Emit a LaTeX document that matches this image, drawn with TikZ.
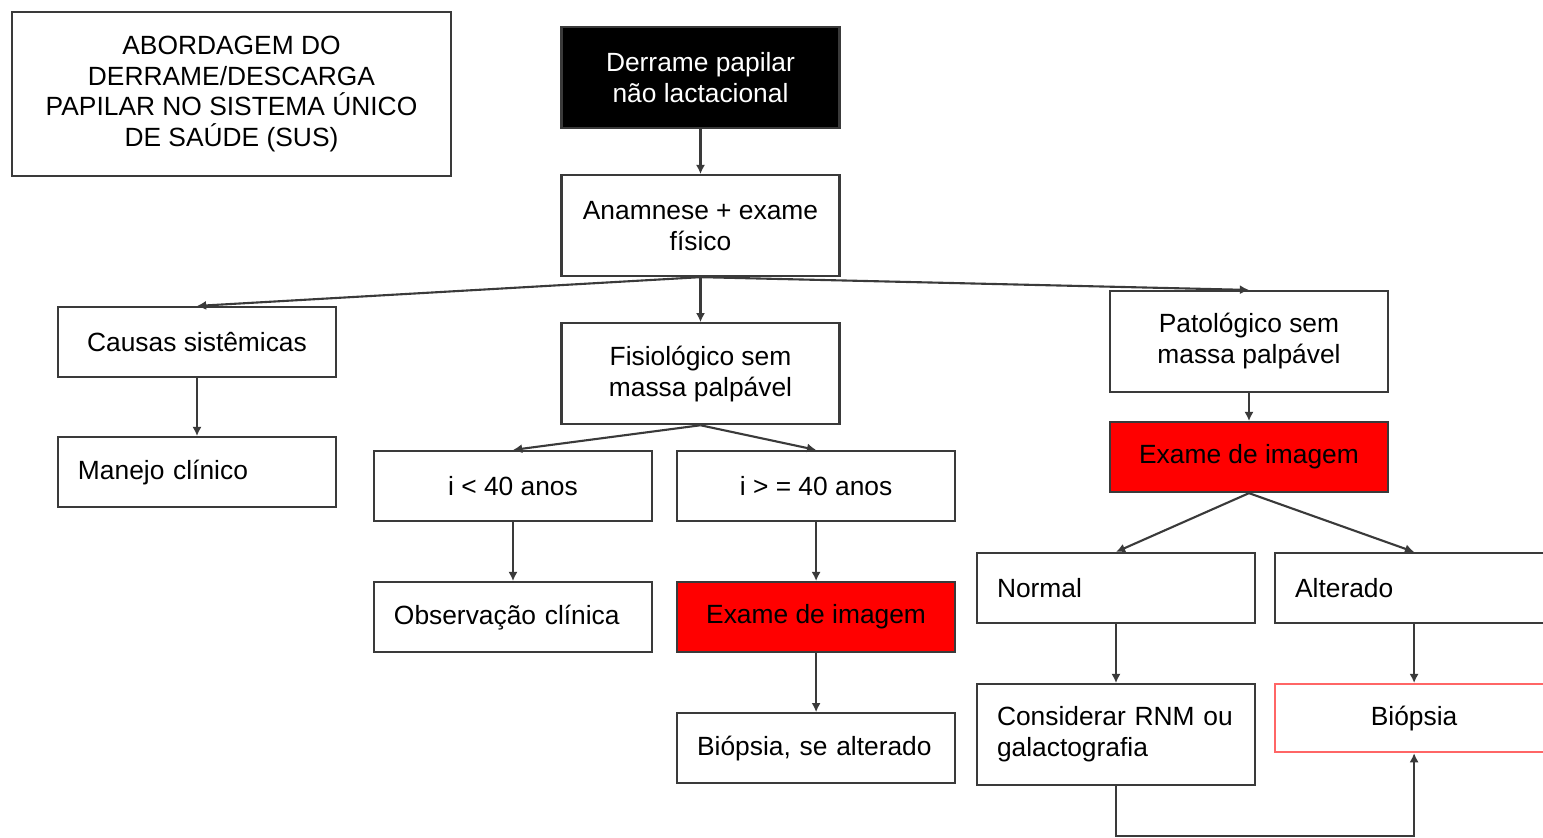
\documentclass[tikz,border=0pt]{standalone}
\usepackage{fontspec}
\setmainfont{Liberation Sans}
\usepackage{tikz}
\usetikzlibrary{arrows.meta,positioning}
\definecolor{boxline}{HTML}{3A3A3A}
\definecolor{alertred}{HTML}{FF0000}
\definecolor{softred}{HTML}{FF6666}
\tikzset{
  stepbox/.style={draw=boxline,line width=0.6pt,fill=white,minimum width=2.78cm,minimum height=0.7cm,align=center,inner sep=0pt,font=\fontsize{7.5}{8.8}\selectfont},
  tallbox/.style={stepbox,minimum height=1.01cm},
  leftbox/.style={stepbox,text width=2.38cm,align=left,inner xsep=0.2cm},
  imagebox/.style={stepbox,fill=alertred},
  arrow/.style={-{Latex[length=2.6pt,width=2.6pt]},line width=0.6pt,boxline}
}
\begin{document}
\begin{tikzpicture}
  \clip (0,0) rectangle (15.43,-8.38);
  \fill[white] (0,0) rectangle (15.43,-8.38);

  % header
  \node[stepbox,minimum width=4.39cm,minimum height=1.64cm] (title) at (2.315,-0.94)
    {ABORDAGEM DO\\DERRAME/DESCARGA\\PAPILAR NO SISTEMA ÚNICO\\DE SAÚDE (SUS)};

  % central column
  \node[tallbox,fill=black,text=white] (derrame) at (7.005,-0.775) {Derrame papilar\\não lactacional};
  \node[tallbox,below=0.45cm of derrame] (anamnese) {Anamnese + exame\\físico};
  \node[tallbox,below=0.45cm of anamnese] (fisio) {Fisiológico sem\\massa palpável};

  % left column
  \node[stepbox] (causas) at (1.97,-3.42) {Causas sistêmicas};
  \node[leftbox,below=0.58cm of causas] (manejo) {Manejo clínico};

  % physiological branch
  \node[stepbox] (menor) at (5.13,-4.86) {i < 40 anos};
  \node[stepbox,right=0.23cm of menor] (maior) {i > = 40 anos};
  \node[leftbox,below=0.59cm of menor] (observ) {Observação clínica};
  \node[imagebox,below=0.59cm of maior] (exameA) {Exame de imagem};
  \node[leftbox,below=0.59cm of exameA] (biopA) {Biópsia, se alterado};

  % pathological branch
  \node[tallbox] (pato) at (12.49,-3.415) {Patológico sem\\massa palpável};
  \node[imagebox,below=0.28cm of pato] (exameB) {Exame de imagem};
  \node[leftbox] (normal) at (11.16,-5.88) {Normal};
  \node[leftbox,right=0.18cm of normal] (alterado) {Alterado};
  \node[leftbox,minimum height=1.01cm,below=0.59cm of normal] (considerar) {Considerar RNM ou\\galactografia};
  \node[stepbox,draw=softred,minimum height=0.68cm,below=0.59cm of alterado] (biopB) {Biópsia};

  \draw[arrow] (derrame) -- (anamnese);
  \draw[arrow] (anamnese.south) -- (causas.north);
  \draw[arrow] (anamnese.south) -- (fisio.north);
  \draw[arrow] (anamnese.south) -- (pato.north);
  \draw[arrow] (causas) -- (manejo);
  \draw[arrow] (fisio.south) -- (menor.north);
  \draw[arrow] (fisio.south) -- (maior.north);
  \draw[arrow] (menor) -- (observ);
  \draw[arrow] (maior) -- (exameA);
  \draw[arrow] (exameA) -- (biopA);
  \draw[arrow] (pato) -- (exameB);
  \draw[arrow] (exameB.south) -- (normal.north);
  \draw[arrow] (exameB.south) -- (alterado.north);
  \draw[arrow] (normal) -- (considerar);
  \draw[arrow] (alterado) -- (biopB);
  \draw[arrow] (considerar.south) -- ++(0,-0.5) -| (biopB.south);
\end{tikzpicture}
\end{document}
